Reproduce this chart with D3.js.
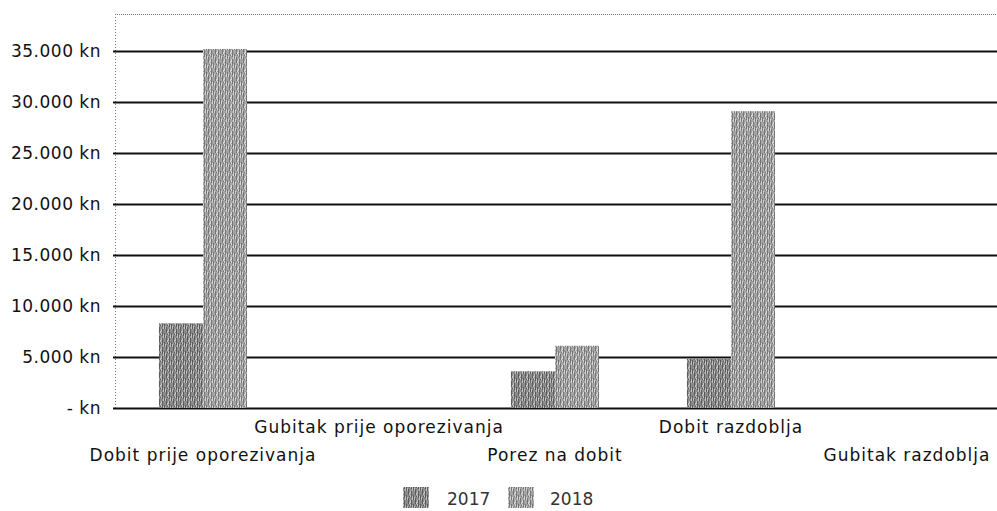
<!DOCTYPE html>
<html>
<head>
<meta charset="utf-8">
<script src="https://cdn.jsdelivr.net/npm/d3@7"></script>
<style>
  html, body { margin: 0; padding: 0; background: #fff; }
  svg { display: block; }
  text { font-family: "DejaVu Sans", Verdana, sans-serif; fill: #111; }
</style>
</head>
<body>
<svg id="chart" width="997" height="511"></svg>
<script>
const categories = ["Dobit prije oporezivanja", "Gubitak prije oporezivanja", "Porez na dobit", "Dobit razdoblja", "Gubitak razdoblja"];
const seriesNames = ["2017", "2018"];
const values2017 = [8300, 0, 3600, 4800, 0];
const values2018 = [35200, 0, 6100, 29100, 0];
const yTicks = [0, 5000, 10000, 15000, 20000, 25000, 30000, 35000];

const seriesValues = { "2017": values2017, "2018": values2018 };

(function () {
const svg = d3.select("#chart");
const W = 997, H = 511;
const mLeft = 115, mRight = 995, mTop = 14, mBottom = 408;

const x0 = d3.scaleBand().domain(categories).range([mLeft, mRight]).paddingInner(0).paddingOuter(0);
const bw = x0.bandwidth();
const x1 = d3.scaleBand().domain(seriesNames).range([bw / 4, 3 * bw / 4]).padding(0);
const y = d3.scaleLinear().domain([0, 35000]).range([mBottom, 51]);

// patterns to mimic the dithered, vertically streaked gray texture
const defs = svg.append("defs");
function makePattern(id, base, dark, light) {
  const p = defs.append("pattern").attr("id", id).attr("patternUnits", "userSpaceOnUse")
    .attr("width", 7).attr("height", 9);
  p.append("rect").attr("width", 7).attr("height", 9).attr("fill", base);
  const darkBits = [[0,0,5],[2,3,6],[5,0,3],[5,5,4],[3,1,1]];
  const lightBits = [[1,2,3],[4,0,2],[4,5,3],[6,1,4],[3,7,2]];
  darkBits.forEach(([x, yy, h]) => p.append("rect").attr("x", x).attr("y", yy).attr("width", 1).attr("height", h).attr("fill", dark));
  lightBits.forEach(([x, yy, h]) => p.append("rect").attr("x", x).attr("y", yy).attr("width", 1).attr("height", h).attr("fill", light));
}
makePattern("p2017", "#8c8c8c", "#5a5a5a", "#c2c2c2");
makePattern("p2018", "#a4a4a4", "#747474", "#d6d6d6");
const fills = { "2017": "url(#p2017)", "2018": "url(#p2018)" };

// plot frame (dotted top and left)
svg.append("line").attr("x1", mLeft).attr("x2", W).attr("y1", mTop + 0.5).attr("y2", mTop + 0.5)
  .attr("stroke", "#777").attr("stroke-width", 1).attr("stroke-dasharray", "1,1");
svg.append("line").attr("x1", mLeft + 0.5).attr("x2", mLeft + 0.5).attr("y1", mTop).attr("y2", mBottom)
  .attr("stroke", "#777").attr("stroke-width", 1).attr("stroke-dasharray", "1,2");

// gridlines
svg.append("g").selectAll("line").data(yTicks).join("line")
  .attr("x1", mLeft - 2).attr("x2", mRight + 2)
  .attr("y1", d => Math.round(y(d)) + 0.5).attr("y2", d => Math.round(y(d)) + 0.5)
  .attr("stroke", "#111").attr("stroke-width", 1.8);

// y axis labels
const fmt = d => d === 0 ? "- kn" : d3.format(",")(d).replace(/,/g, ".") + " kn";
svg.append("g").selectAll("text").data(yTicks).join("text")
  .attr("x", 101).attr("y", d => y(d) + 6)
  .attr("text-anchor", "end")
  .style("font-size", "17px").style("letter-spacing", "0.5px")
  .text(fmt);

// bars
const groups = svg.append("g").selectAll("g").data(categories).join("g")
  .attr("transform", d => `translate(${x0(d)},0)`);
groups.selectAll("rect").data((d, i) => seriesNames.map(s => ({ s, v: seriesValues[s][i] })))
  .join("rect")
  .attr("x", d => x1(d.s))
  .attr("width", x1.bandwidth())
  .attr("y", d => y(d.v))
  .attr("height", d => y(0) - y(d.v))
  .attr("fill", d => fills[d.s]);

// category labels (staggered)
svg.append("g").selectAll("text").data(categories).join("text")
  .attr("x", d => x0(d) + bw / 2)
  .attr("y", (d, i) => i % 2 === 1 ? 433 : 461)
  .attr("text-anchor", "middle")
  .style("font-size", "17px").style("letter-spacing", "1px")
  .text(d => d);

// legend
const legend = svg.append("g");
const legendItems = [{ s: "2017", sx: 403, tx: 447 }, { s: "2018", sx: 508, tx: 550 }];
legend.selectAll("rect").data(legendItems).join("rect")
  .attr("x", d => d.sx).attr("y", 487).attr("width", 26).attr("height", 21)
  .attr("fill", d => fills[d.s]);
legend.selectAll("text").data(legendItems).join("text")
  .attr("x", d => d.tx).attr("y", 505)
  .style("font-size", "17px").style("fill", "#333")
  .text(d => d.s);
})();
</script>
</body>
</html>
